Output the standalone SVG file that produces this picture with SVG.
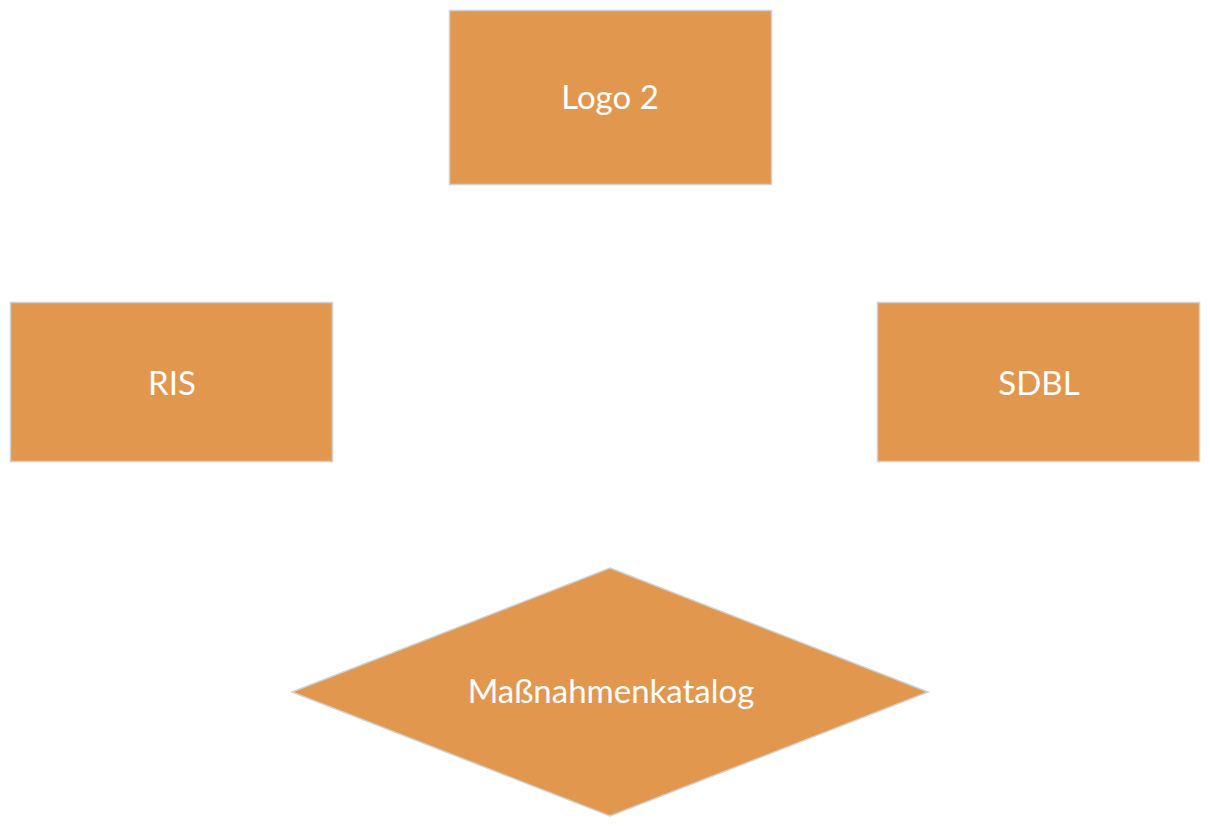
<svg xmlns="http://www.w3.org/2000/svg" width="1210" height="827" viewBox="0 0 1210 827">
<style>
.shape{fill:#E2974E;stroke:#D0D0D0;stroke-width:1.5}
.lbl{font-family:Lato,"Open Sans",sans-serif;font-size:33px;fill:#FFFFFF;text-anchor:middle}
</style>
<rect width="1210" height="827" fill="#FFFFFF"/>
<g id="connectors"></g>
<g id="logo2">
<rect class="shape" x="449.5" y="10.5" width="322" height="174"/>
<text class="lbl" x="610" y="109">Logo 2</text>
</g>
<g id="ris">
<rect class="shape" x="10.5" y="302.5" width="322" height="159"/>
<text class="lbl" x="172" y="395">RIS</text>
</g>
<g id="sdbl">
<rect class="shape" x="877.5" y="302.5" width="322" height="159"/>
<text class="lbl" x="1039" y="395">SDBL</text>
</g>
<g id="massnahmenkatalog">
<polygon class="shape" points="610,568 928,692 610,816 292,692"/>
<text class="lbl" x="611" y="703">Maßnahmenkatalog</text>
</g>
</svg>
